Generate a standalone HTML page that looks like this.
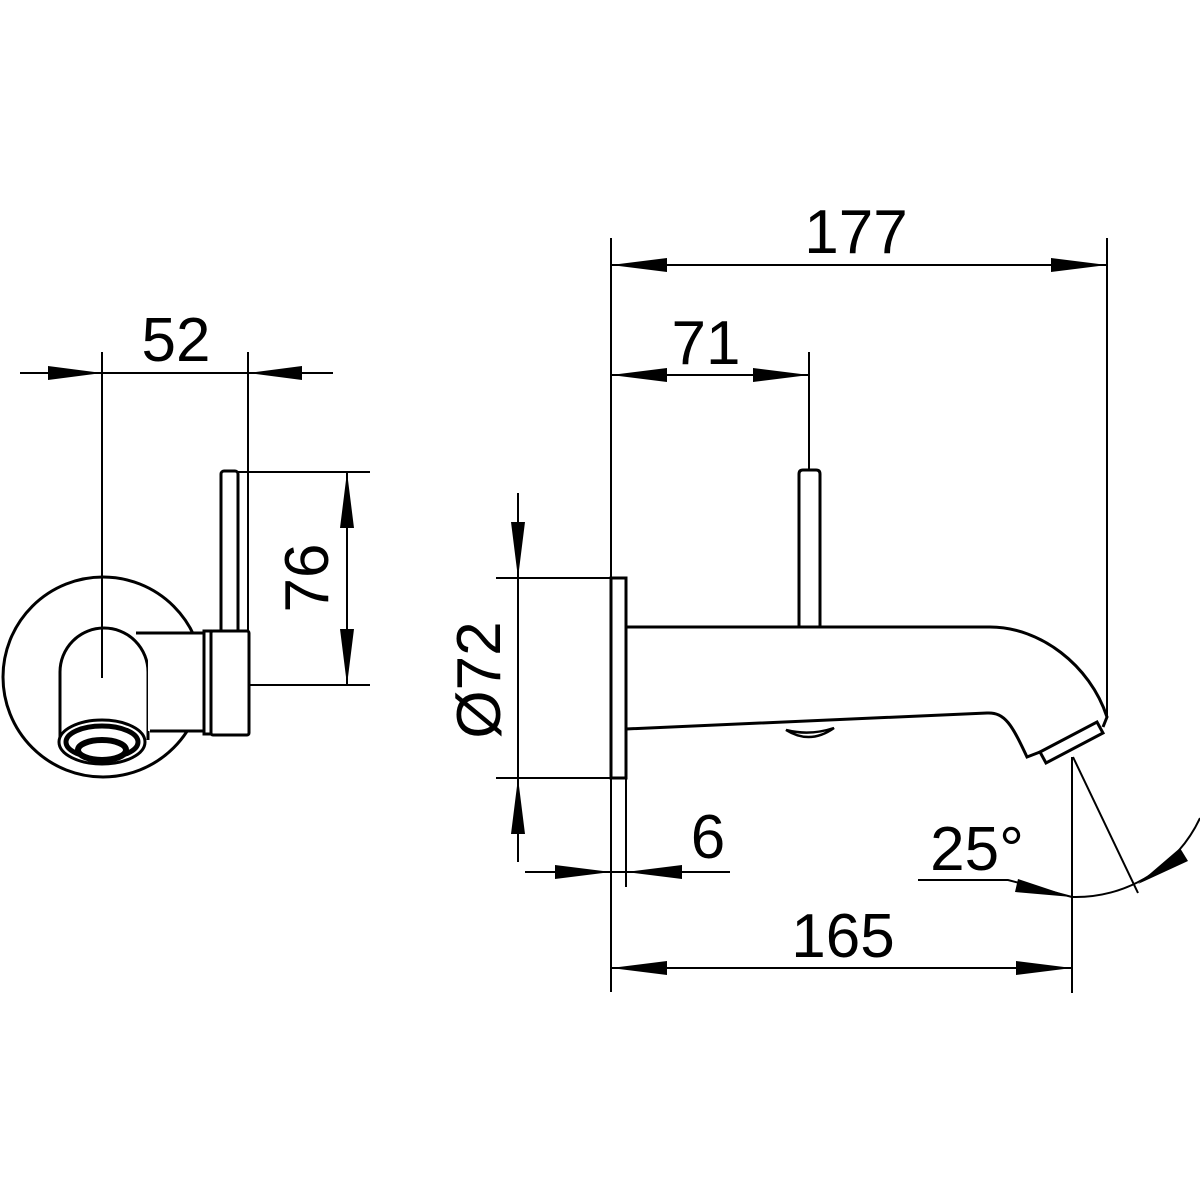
<!DOCTYPE html>
<html><head><style>html,body{margin:0;padding:0;background:#fff}svg{display:block}</style></head>
<body>
<svg width="1200" height="1200" viewBox="0 0 1200 1200" xmlns="http://www.w3.org/2000/svg">
<rect width="1200" height="1200" fill="#fff"/>
<g font-family="Liberation Sans, Arial, sans-serif" font-size="62" fill="#000">
<text x="176" y="361" text-anchor="middle">52</text>
<text x="856" y="253" text-anchor="middle">177</text>
<text x="706" y="364" text-anchor="middle">71</text>
<text x="708" y="858" text-anchor="middle">6</text>
<text x="843" y="957" text-anchor="middle">165</text>
<text x="977" y="870" text-anchor="middle">25°</text>
<text transform="translate(328,578) rotate(-90)" text-anchor="middle">76</text>
<text transform="translate(500,680) rotate(-90)" text-anchor="middle">Ø72</text>
</g>
<g stroke="#000" stroke-width="2" fill="none">
<line x1="20" y1="373" x2="333" y2="373"/>
<line x1="248" y1="352" x2="248" y2="685"/>
<line x1="238" y1="472" x2="370" y2="472"/>
<line x1="250" y1="685" x2="370" y2="685"/>
<line x1="347" y1="472" x2="347" y2="685"/>
<line x1="611" y1="238" x2="611" y2="992"/>
<line x1="1107" y1="238" x2="1107" y2="717"/>
<line x1="611" y1="265" x2="1107" y2="265"/>
<line x1="611" y1="375" x2="809" y2="375"/>
<line x1="809" y1="352" x2="809" y2="470"/>
<line x1="496" y1="578" x2="611" y2="578"/>
<line x1="496" y1="778" x2="611" y2="778"/>
<line x1="518" y1="493" x2="518" y2="862"/>
<line x1="525" y1="872" x2="730" y2="872"/>
<line x1="626" y1="778" x2="626" y2="887"/>
<line x1="611" y1="968" x2="1072" y2="968"/>
<line x1="1072" y1="757" x2="1072" y2="993"/>
<line x1="1073" y1="757" x2="1138" y2="893"/>
<polyline points="918,880 1008,880 1072,897"/>
<path d="M1072,897 A137,137 0 0 0 1200,818"/>
</g>
<g fill="#000">
<polygon points="102,373 48,366 48,380"/>
<polygon points="248,373 302,366 302,380"/>
<polygon points="347,472 340,528 354,528"/>
<polygon points="347,685 340,629 354,629"/>
<polygon points="611,265 667,258 667,272"/>
<polygon points="1107,265 1051,258 1051,272"/>
<polygon points="611,375 667,368 667,382"/>
<polygon points="809,375 753,368 753,382"/>
<polygon points="518,578 511,522 525,522"/>
<polygon points="518,778 511,834 525,834"/>
<polygon points="611,872 555,865 555,879"/>
<polygon points="626,872 682,865 682,879"/>
<polygon points="611,968 667,961 667,975"/>
<polygon points="1072,968 1016,961 1016,975"/>
<polygon points="1072,897 1018,879 1015,892"/>
<polygon points="1138,884 1180,848 1188,861"/>
</g>
<g stroke="#000" stroke-width="3" fill="none">
<circle cx="103" cy="677" r="100"/>
<path d="M60,740 L60,672 A44,44 0 0 1 148,672 L148,740" fill="#fff"/>
<rect x="221" y="471" width="17" height="162" rx="3" fill="#fff"/>
<rect x="148" y="633" width="56" height="98" fill="#fff" stroke="none"/>
<path d="M136,633 L204,633 L204,731 L150,731"/>
<rect x="204" y="631" width="7" height="103"/>
<rect x="211" y="631" width="38" height="104" rx="2" fill="#fff"/>
<ellipse cx="102" cy="742" rx="43" ry="22" fill="#fff"/>
<ellipse cx="102" cy="742" rx="36" ry="16" stroke-width="5"/>
<ellipse cx="102" cy="750" rx="24" ry="10" fill="#fff" stroke-width="6"/>
</g>
<line x1="102" y1="352" x2="102" y2="678" stroke="#000" stroke-width="2"/>
<g stroke="#000" stroke-width="3" fill="none">
<rect x="611" y="578" width="15" height="200" fill="#fff"/>
<path d="M799,627 L799,474 Q799,470 803,470 L816,470 Q820,470 820,474 L820,627"/>
<path d="M626,627 L990,627 C1040,627 1090,665 1107,717 L1103,727"/>
<path d="M626,729 L987,713 C1005,712 1012,725 1027,757 L1040,752"/>
<path d="M1040,752 L1097,722 L1103,733 L1046,763 Z"/>
<path d="M786,730 Q810,745 834,728 Q810,736 786,730 Z" stroke-width="2.5"/>
</g>
</svg>
</body></html>
